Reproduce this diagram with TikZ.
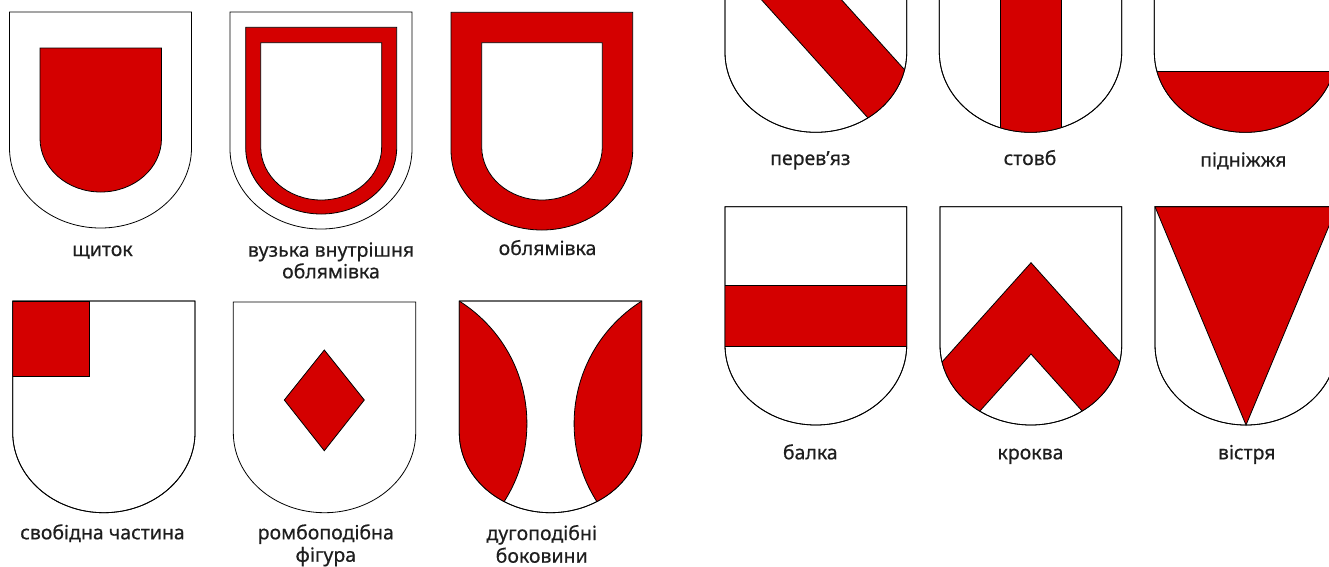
\documentclass[tikz,border=0pt]{standalone}
\usepackage{fontspec}
\setmainfont{Noto Sans}[FakeBold=0.4]
\definecolor{herred}{RGB}{212,0,0}
\definecolor{txt}{RGB}{30,30,30}
\newcommand\shcalc[4]{%
  \pgfmathsetmacro\shL{#1}\pgfmathsetmacro\shT{#2}%
  \pgfmathsetmacro\shR{#1+#3}\pgfmathsetmacro\shB{#2+#4}%
  \pgfmathsetmacro\shS{#2+#4-0.44*#3}%
  \pgfmathsetmacro\shC{#1+#3/2}\pgfmathsetmacro\shKx{0.5523*#3/2}\pgfmathsetmacro\shKy{0.5523*0.44*#3}}
\newcommand\shdraw[1]{\path[#1] (\shL,\shT) -- (\shR,\shT) -- (\shR,\shS)
  .. controls (\shR,\shS+\shKy) and (\shC+\shKx,\shB) .. (\shC,\shB)
  .. controls (\shC-\shKx,\shB) and (\shL,\shS+\shKy) .. (\shL,\shS) -- cycle;}
\begin{document}
\begin{tikzpicture}[x=1pt,y=-1pt,
  shline/.style={draw=black,line width=0.8pt},
  charge/.style={fill=herred,draw=black,line width=0.8pt},
  lbl/.style={font=\fontsize{19.5}{22}\selectfont\bfseries,text=txt,anchor=base,inner sep=0pt}]
\useasboundingbox (0,0) rectangle (1329,566);
\fill[white] (0,0) rectangle (1329,566);
\clip (0,0) rectangle (1329,566);

% A: shchytok
\shcalc{9.5}{12}{182}{216}\shdraw{fill=white,shline}
\shcalc{40}{48}{121.5}{144}\shdraw{charge}
\node[lbl] (lA) at (102.5,256) {щиток};

% B
\shcalc{230}{12}{182}{217}\shdraw{fill=white,shline}
\shcalc{245.7}{27.3}{151}{186.7}\shdraw{charge}
\shcalc{260.7}{42.7}{121}{157.3}\shdraw{fill=white,shline}
\node[lbl] (lB1) at (331,256.7) {вузька внутрішня};
\node[lbl] (lB2) at (331,278.3) {облямівка};

% C
\shcalc{451}{12.3}{181.7}{217.7}\shdraw{charge}
\shcalc{481.7}{42.7}{120.6}{157.3}\shdraw{fill=white,shline}
\node[lbl] (lC) at (547.5,255) {облямівка};

% D
\shcalc{12.7}{301}{182.3}{211.7}\shdraw{fill=white,shline}
\begin{scope}\shdraw{clip}
  \path[charge] (12.7,301) rectangle (89,376.7);
\end{scope}
\shdraw{shline}
\node[lbl] (lD) at (102.5,539.3) {свобідна частина};

% E
\shcalc{233.3}{302}{182.4}{210.7}\shdraw{fill=white,shline}
\path[charge] (324.3,350) -- (364.3,400) -- (324.3,450.7) -- (284.3,400) -- cycle;
\node[lbl] (lE1) at (325.8,539.3) {ромбоподібна};
\node[lbl] (lE2) at (325.8,561.7) {фігура};

% F
\shcalc{459.3}{301}{182.4}{211.7}\shdraw{fill=white,shline}
\begin{scope}\shdraw{clip}
  \path[charge] (382.1,423.6) circle[radius=144.8];
  \path[charge] (718.9,423.6) circle[radius=144.8];
\end{scope}
\shdraw{shline}
\node[lbl] (lF1) at (541.7,540) {дугоподібні};
\node[lbl] (lF2) at (541.7,562.7) {боковини};

% G
\shcalc{725}{-83.7}{181.7}{216}\shdraw{fill=white,shline}
\begin{scope}\shdraw{clip}
  \path[charge] (561.7,-222) -- (961.7,222) -- (1041.7,222) -- (641.7,-222) -- cycle;
\end{scope}
\shdraw{shline}
\node[lbl] (lG) at (810.3,165) {перев’яз};

% H
\shcalc{939.3}{-83.7}{182.4}{216}\shdraw{fill=white,shline}
\begin{scope}\shdraw{clip}
  \path[charge] (1000.7,-100) rectangle (1061,200);
\end{scope}
\shdraw{shline}
\node[lbl] (lH) at (1030,165) {стовб};

% I
\shcalc{1154.3}{-83.7}{182}{216}\shdraw{fill=white,shline}
\begin{scope}\shdraw{clip}
  \path[charge] (1140,71.7) rectangle (1350,200);
\end{scope}
\shdraw{shline}
\node[lbl] (lI) at (1243.3,166.7) {підніжжя};

% J
\shcalc{725}{206.7}{181.7}{218.3}\shdraw{fill=white,shline}
\begin{scope}\shdraw{clip}
  \path[charge] (700,285.3) rectangle (950,346);
\end{scope}
\shdraw{shline}
\node[lbl] (lJ) at (810.3,459.3) {балка};

% K
\shcalc{940}{206.7}{181.7}{218.3}\shdraw{fill=white,shline}
\begin{scope}\shdraw{clip}
  \path[charge] (881,430) -- (1031,262.7) -- (1181,430) -- (1181,521.3) -- (1031,354) -- (881,521.3) -- cycle;
\end{scope}
\shdraw{shline}
\node[lbl] (lK) at (1030.5,459.3) {кроква};

% L
\shcalc{1155}{206.7}{182}{218.3}\shdraw{fill=white,shline}
\path[charge] (1155,206.7) -- (1337,206.7) -- (1246,425) -- cycle;
\shdraw{shline}
\node[lbl] (lL) at (1246.7,459.3) {вістря};
\end{tikzpicture}
\end{document}
